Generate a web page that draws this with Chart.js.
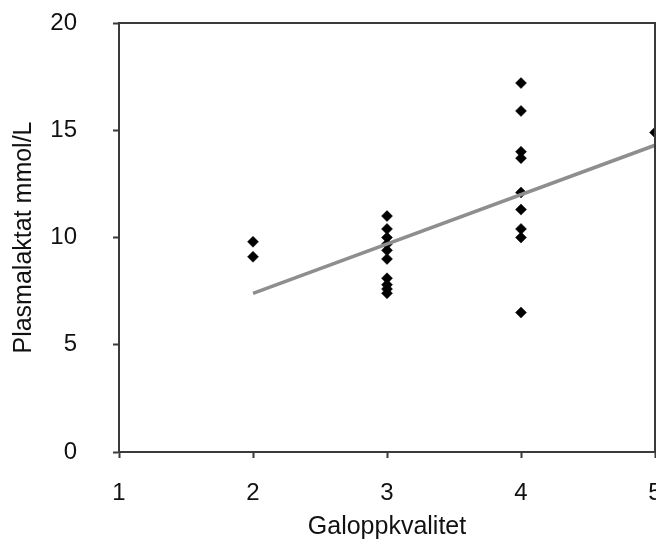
<!DOCTYPE html>
<html>
<head>
<meta charset="utf-8">
<script src="https://cdn.jsdelivr.net/npm/chart.js@4/dist/chart.umd.min.js"></script>
<style>
html,body{margin:0;padding:0;background:#fff;}
#wrap{width:656px;height:545px;position:relative;}
</style>
</head>
<body>
<div id="wrap"><canvas id="c" width="656" height="545"></canvas></div>
<script>
// Galoppkvalitet (x) and Plasmalaktat mmol/L (y)
const galoppX = [2, 2,
  3, 3, 3, 3, 3, 3, 3, 3, 3, 3,
  4, 4, 4, 4, 4, 4, 4, 4, 4,
  5];
const laktatY = [9.8, 9.1,
  11.0, 10.4, 10.0, 9.7, 9.4, 9.0, 8.1, 7.8, 7.6, 7.4,
  17.2, 15.9, 14.0, 13.7, 12.1, 11.3, 10.4, 10.0, 6.5,
  14.9];
const trendX = [2, 5];
const trendY = [7.4, 14.3];
const xTicks = [1, 2, 3, 4, 5];
const yTicks = [0, 5, 10, 15, 20];

const pts = galoppX.map((x, i) => ({x: x, y: laktatY[i]}));
const trend = trendX.map((x, i) => ({x: x, y: trendY[i]}));

const FONT = "'Liberation Sans', Arial, Helvetica, sans-serif";
const AXIS = '#3a3a3a';

const frame = {
  id: 'frame',
  afterDatasetsDraw(chart) {
    const a = chart.chartArea, ctx = chart.ctx;
    ctx.save();
    ctx.strokeStyle = AXIS;
    ctx.lineWidth = 2;
    ctx.beginPath();
    ctx.moveTo(a.left, a.top);
    ctx.lineTo(a.right, a.top);
    ctx.lineTo(a.right, a.bottom);
    ctx.stroke();
    ctx.restore();
  }
};

new Chart(document.getElementById('c'), {
  type: 'scatter',
  data: {
    datasets: [
      {
        type: 'line',
        data: trend,
        borderColor: '#8e8e8e',
        borderWidth: 3.5,
        pointRadius: 0,
        fill: false,
        order: 0
      },
      {
        data: pts,
        pointStyle: 'rectRot',
        pointRadius: 5.5,
        backgroundColor: '#000',
        borderColor: '#000',
        borderWidth: 0.5,
        order: 1
      }
    ]
  },
  plugins: [frame],
  options: {
    responsive: false,
    animation: false,
    events: [],
    layout: {autoPadding: false, padding: {left: 0, right: 1, top: 23, bottom: 0}},
    plugins: {legend: {display: false}, tooltip: {enabled: false}},
    scales: {
      x: {
        type: 'linear',
        min: 1, max: 5,
        afterBuildTicks(s) { s.ticks = xTicks.map(v => ({value: v})); },
        afterFit(s) { s.height = 93; s.paddingLeft = 0; s.paddingRight = 0; },
        ticks: {color: '#111', padding: 21, font: {family: FONT, size: 24}, maxRotation: 0, autoSkip: false},
        grid: {drawOnChartArea: false, drawTicks: true, tickLength: 6, tickColor: AXIS, tickWidth: 2},
        border: {display: true, color: AXIS, width: 2},
        title: {display: true, text: 'Galoppkvalitet', color: '#111', font: {family: FONT, size: 25}, padding: {top: 0, bottom: 3}}
      },
      y: {
        type: 'linear',
        min: 0, max: 20,
        afterBuildTicks(s) { s.ticks = yTicks.map(v => ({value: v})); },
        afterFit(s) { s.width = 119; s.paddingTop = 0; s.paddingBottom = 0; },
        ticks: {color: '#111', padding: 36, font: {family: FONT, size: 24}},
        grid: {drawOnChartArea: false, drawTicks: true, tickLength: 6, tickColor: AXIS, tickWidth: 2},
        border: {display: true, color: AXIS, width: 2},
        title: {display: true, text: 'Plasmalaktat mmol/L', color: '#111', font: {family: FONT, size: 25}, padding: {top: 9, bottom: 0}}
      }
    }
  }
});
</script>
</body>
</html>
